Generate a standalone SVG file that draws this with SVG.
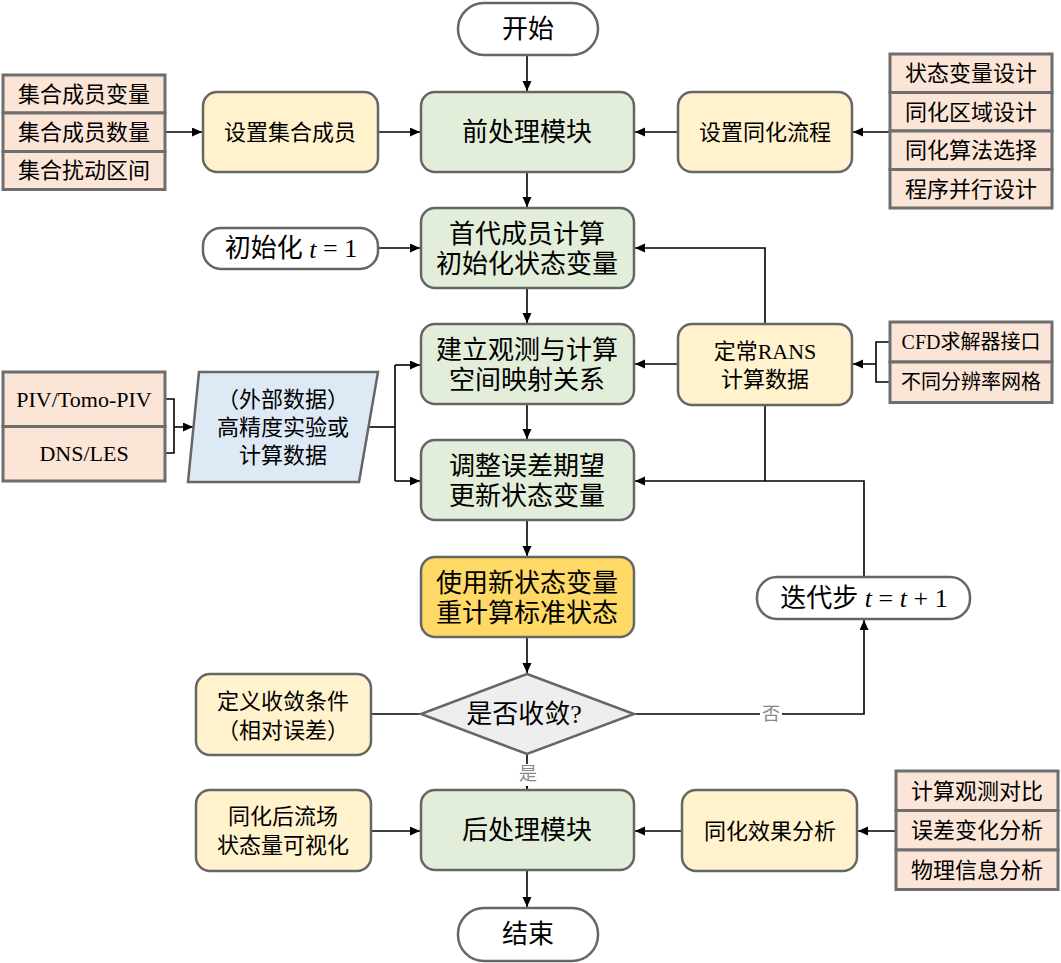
<svg xmlns="http://www.w3.org/2000/svg" width="1061" height="963" viewBox="0 0 1061 963">
<defs>
<marker id="ah" markerUnits="userSpaceOnUse" markerWidth="11" markerHeight="10" refX="10" refY="4.5" orient="auto">
<path d="M0,0 L10,4.5 L0,9 z" fill="#000"/>
</marker>
<style>
text{font-family:"Liberation Serif","Noto Sans CJK SC",serif;fill:#000;text-anchor:middle;dominant-baseline:central}
.main{fill:#e2eed9;stroke:#666;stroke-width:2.5}
.side{fill:#fff2cc;stroke:#666;stroke-width:2.5}
.list{fill:#fbe5d6;stroke:#6e6e6e;stroke-width:3}
.term{fill:#fff;stroke:#666;stroke-width:2.5}
.t26{font-size:26px}
.t24{font-size:24px}
.t22{font-size:22px}
.t20{font-size:20px}
.lbl{font-size:18px;fill:#888}
.c{fill:none;stroke:#000;stroke-width:1.6}
.a{marker-end:url(#ah)}
</style>
</defs>
<rect width="1061" height="963" fill="#fff"/>
<g id="connectors">
<path class="c a" d="M527,55 V91"/>
<path class="c a" d="M527,172 V207"/>
<path class="c a" d="M527,288 V323"/>
<path class="c a" d="M527,404 V439"/>
<path class="c a" d="M527,520 V556"/>
<path class="c a" d="M527,637 V673"/>
<path class="c a" d="M527,754 V789"/>
<path class="c a" d="M527,870 V907"/>
<path class="c a" d="M166,132 H202"/>
<path class="c a" d="M378,132 H420"/>
<path class="c a" d="M970,132 H853"/>
<path class="c a" d="M678,132 H635"/>
<path class="c a" d="M378,248 H420"/>
<path class="c a" d="M765,324 V248 H635"/>
<path class="c a" d="M678,364 H635"/>
<path class="c" d="M765,404 V481"/>
<path class="c a" d="M864,577 V481 H635"/>
<path class="c" d="M890,342 H876 V382 H890"/>
<path class="c a" d="M876,364 H853"/>
<path class="c" d="M166,399 H174 V453 H166"/>
<path class="c a" d="M174,427 H193"/>
<path class="c" d="M368,427 H395"/>
<path class="c" d="M395,365 V481"/>
<path class="c a" d="M395,365 H420"/>
<path class="c a" d="M395,481 H420"/>
<path class="c a" d="M634,714 H864 V620"/>
<path class="c" d="M371,714 H421"/>
<path class="c a" d="M371,831 H420"/>
<path class="c a" d="M682,831 H635"/>
<path class="c a" d="M896,831 H858"/>
<rect x="760" y="703" width="22" height="22" fill="#fff"/>
<text class="lbl" x="771" y="714">否</text>
<rect x="517" y="764" width="22" height="22" fill="#fff"/>
<text class="lbl" x="528" y="774">是</text>
</g>
<g id="start">
<rect class="term" x="458" y="3" width="140" height="52" rx="26"/>
<text class="t26" x="528" y="29">开始</text>
</g>
<g id="preprocess">
<rect class="main" x="421" y="92" width="213" height="80" rx="14"/>
<text class="t26" x="527" y="132">前处理模块</text>
</g>
<g id="set-ensemble">
<rect class="side" x="203" y="92" width="175" height="80" rx="14"/>
<text class="t22" x="290" y="132">设置集合成员</text>
</g>
<g id="ensemble-list">
<rect class="list" x="3" y="75" width="162" height="38"/>
<rect class="list" x="3" y="113" width="162" height="38.5"/>
<rect class="list" x="3" y="151.5" width="162" height="38"/>
<text class="t22" x="84" y="94.5">集合成员变量</text>
<text class="t22" x="84" y="132">集合成员数量</text>
<text class="t22" x="84" y="170.5">集合扰动区间</text>
</g>
<g id="set-assim">
<rect class="side" x="678" y="92" width="174" height="80" rx="14"/>
<text class="t22" x="765" y="132">设置同化流程</text>
</g>
<g id="assim-list">
<rect class="list" x="890" y="54" width="162" height="38.5"/>
<rect class="list" x="890" y="92.5" width="162" height="38.5"/>
<rect class="list" x="890" y="131" width="162" height="38.5"/>
<rect class="list" x="890" y="169.5" width="162" height="38.5"/>
<text class="t22" x="971" y="73.5">状态变量设计</text>
<text class="t22" x="971" y="112">同化区域设计</text>
<text class="t22" x="971" y="150.5">同化算法选择</text>
<text class="t22" x="971" y="189">程序并行设计</text>
</g>
<g id="init-t">
<rect class="term" x="203" y="228" width="175" height="41" rx="18"/>
<text class="t26" x="291" y="248.5">初始化 <tspan font-style="italic">t</tspan> = 1</text>
</g>
<g id="first-member">
<rect class="main" x="421" y="208" width="213" height="80" rx="14"/>
<text class="t26" x="527" y="234">首代成员计算</text>
<text class="t26" x="527" y="264">初始化状态变量</text>
</g>
<g id="mapping">
<rect class="main" x="421" y="324" width="213" height="80" rx="14"/>
<text class="t26" x="527" y="350">建立观测与计算</text>
<text class="t26" x="527" y="380">空间映射关系</text>
</g>
<g id="rans">
<rect class="side" x="678" y="324" width="174" height="81" rx="14"/>
<text class="t22" x="765" y="351" font-size="23">定常RANS</text>
<text class="t22" x="765" y="379">计算数据</text>
</g>
<g id="cfd-list">
<rect class="list" x="890" y="322" width="162" height="40"/>
<rect class="list" x="890" y="362" width="162" height="40.5"/>
<text class="t20" x="971" y="342">CFD求解器接口</text>
<text class="t20" x="971" y="382">不同分辨率网格</text>
</g>
<g id="piv-list">
<rect class="list" x="3" y="372" width="162" height="54.5"/>
<rect class="list" x="3" y="426.5" width="162" height="54.5"/>
<text class="t22" x="84" y="399">PIV/Tomo-PIV</text>
<text class="t22" x="84" y="453">DNS/LES</text>
</g>
<g id="external-data">
<polygon points="199,372 378,372 359,482 188,482" fill="#dee9f6" stroke="#666" stroke-width="2.5"/>
<text class="t22" x="283" y="399">（外部数据）</text>
<text class="t22" x="283" y="427">高精度实验或</text>
<text class="t22" x="283" y="455">计算数据</text>
</g>
<g id="update">
<rect class="main" x="421" y="440" width="213" height="80" rx="14"/>
<text class="t26" x="527" y="466">调整误差期望</text>
<text class="t26" x="527" y="496">更新状态变量</text>
</g>
<g id="recompute">
<rect x="421" y="557" width="213" height="80" rx="14" fill="#ffd966" stroke="#666" stroke-width="2.5"/>
<text class="t26" x="527" y="583">使用新状态变量</text>
<text class="t26" x="527" y="613">重计算标准状态</text>
</g>
<g id="iterate">
<rect class="term" x="757" y="577" width="213" height="42" rx="20"/>
<text class="t26" x="864" y="598">迭代步 <tspan font-style="italic">t</tspan> = <tspan font-style="italic">t</tspan> + 1</text>
</g>
<g id="converge">
<polygon points="527,674 634,714 527,754 421,714" fill="#eeeeee" stroke="#666" stroke-width="2.5"/>
<text class="t26" x="524" y="714">是否收敛?</text>
</g>
<g id="criteria">
<rect class="side" x="196" y="674" width="175" height="81" rx="14"/>
<text class="t22" x="283" y="701">定义收敛条件</text>
<text class="t22" x="283" y="730">（相对误差）</text>
</g>
<g id="postprocess">
<rect class="main" x="421" y="790" width="213" height="80" rx="14"/>
<text class="t26" x="527" y="830">后处理模块</text>
</g>
<g id="visualize">
<rect class="side" x="196" y="790" width="175" height="81" rx="14"/>
<text class="t22" x="283" y="816">同化后流场</text>
<text class="t22" x="283" y="845">状态量可视化</text>
</g>
<g id="analysis">
<rect class="side" x="682" y="790" width="175" height="81" rx="14"/>
<text class="t22" x="770" y="831">同化效果分析</text>
</g>
<g id="analysis-list">
<rect class="list" x="896" y="771" width="162" height="39.5"/>
<rect class="list" x="896" y="810.5" width="162" height="39.5"/>
<rect class="list" x="896" y="850" width="162" height="39.5"/>
<text class="t22" x="977" y="791">计算观测对比</text>
<text class="t22" x="977" y="830.5">误差变化分析</text>
<text class="t22" x="977" y="870">物理信息分析</text>
</g>
<g id="end">
<rect class="term" x="458" y="908" width="140" height="53" rx="26"/>
<text class="t26" x="528" y="934.5">结束</text>
</g>
</svg>
